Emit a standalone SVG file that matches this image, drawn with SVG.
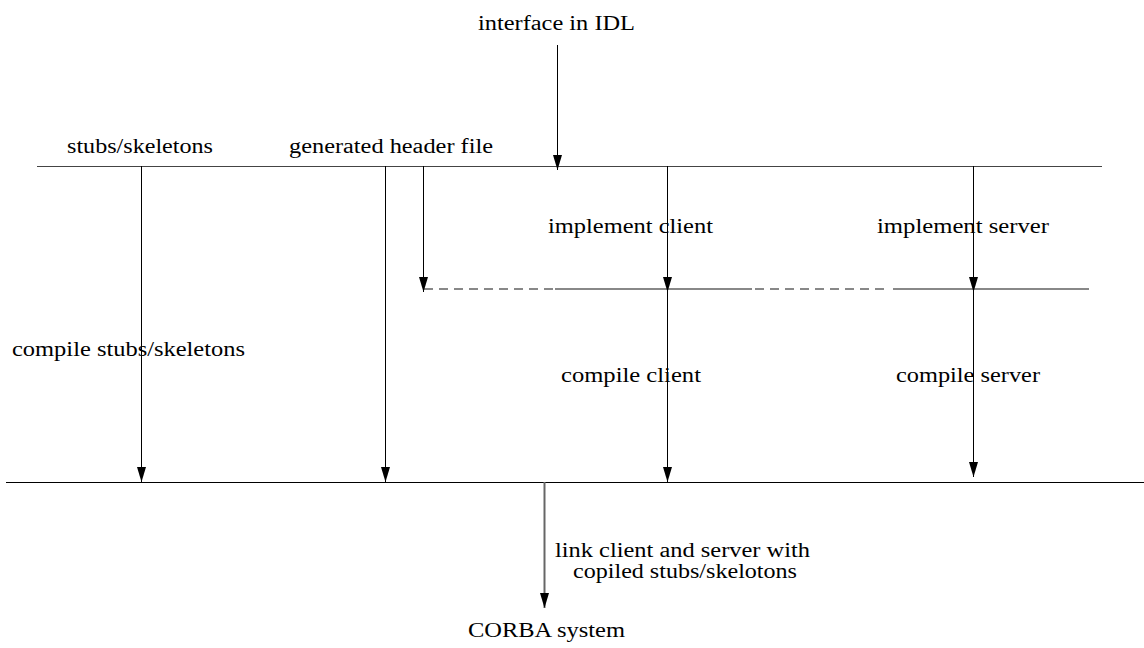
<svg xmlns="http://www.w3.org/2000/svg" width="1144" height="648" viewBox="0 0 1144 648">
<style>
text{font-family:'Liberation Serif','Times New Roman',serif;font-size:20.5px;fill:#000}
.ln{fill:none;stroke:#000;stroke-width:1}
.top{stroke:#444;stroke-width:1;fill:none}
.mid{stroke:#888;stroke-width:2;fill:none}
.dash{stroke:#888;stroke-width:2;fill:none;stroke-dasharray:9 6}
.bot{stroke:#000;stroke-width:1.2;fill:none}
.ar{marker-end:url(#ah)}
</style>
<defs>
<marker id="ah" markerUnits="userSpaceOnUse" markerWidth="15" markerHeight="10" refX="15" refY="4.5" orient="auto">
<path d="M0,0 L15,4.5 L0,9 z" fill="#000"/>
</marker>
</defs>
<g id="connectors">
<line class="top" x1="37" y1="166.5" x2="1102" y2="166.5"/>
<line class="bot" x1="6" y1="482.5" x2="1144" y2="482.5"/>
<line class="dash" x1="424" y1="289" x2="553" y2="289"/>
<line class="mid" x1="555" y1="289" x2="752" y2="289"/>
<line class="dash" x1="755" y1="289" x2="890" y2="289"/>
<line class="mid" x1="893" y1="289" x2="1089" y2="289"/>
<line class="ln ar" x1="557.5" y1="45" x2="557.5" y2="170"/>
<line class="ln ar" x1="141.5" y1="166" x2="141.5" y2="482"/>
<line class="ln ar" x1="385.5" y1="166" x2="385.5" y2="482"/>
<line class="ln ar" x1="423.5" y1="166" x2="423.5" y2="292"/>
<line class="ln ar" x1="667.5" y1="166" x2="667.5" y2="292"/>
<line class="ln ar" x1="667.5" y1="289" x2="667.5" y2="482"/>
<line class="ln ar" x1="973.5" y1="166" x2="973.5" y2="292"/>
<line class="ln ar" x1="973.5" y1="289" x2="973.5" y2="477"/>
<line class="ar" x1="544.5" y1="482" x2="544.5" y2="608" stroke="#666" stroke-width="2"/>
</g>
<g id="n-idl"><text x="478" y="30" textLength="157" lengthAdjust="spacingAndGlyphs">interface in IDL</text></g>
<g id="n-stubs"><text x="67" y="153" textLength="146" lengthAdjust="spacingAndGlyphs">stubs/skeletons</text></g>
<g id="n-header"><text x="289" y="153" textLength="204" lengthAdjust="spacingAndGlyphs">generated header file</text></g>
<g id="n-implclient"><text x="548" y="233" textLength="165" lengthAdjust="spacingAndGlyphs">implement client</text></g>
<g id="n-implserver"><text x="877" y="233" textLength="172" lengthAdjust="spacingAndGlyphs">implement server</text></g>
<g id="n-compstubs"><text x="12" y="356" textLength="233" lengthAdjust="spacingAndGlyphs">compile stubs/skeletons</text></g>
<g id="n-compclient"><text x="561" y="382" textLength="140" lengthAdjust="spacingAndGlyphs">compile client</text></g>
<g id="n-compserver"><text x="896" y="382" textLength="144" lengthAdjust="spacingAndGlyphs">compile server</text></g>
<g id="n-link">
<text x="555" y="557" textLength="255" lengthAdjust="spacingAndGlyphs">link client and server with</text>
<text x="573" y="578" textLength="224" lengthAdjust="spacingAndGlyphs">copiled stubs/skelotons</text>
</g>
<g id="n-corba"><text x="468" y="637" textLength="157" lengthAdjust="spacingAndGlyphs">CORBA system</text></g>
</svg>
